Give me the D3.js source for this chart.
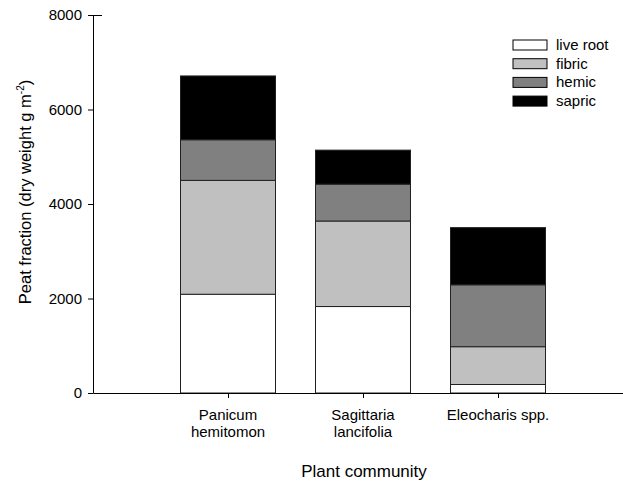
<!DOCTYPE html>
<html>
<head>
<meta charset="utf-8">
<script src="https://cdn.jsdelivr.net/npm/d3@7"></script>
<style>
  html, body { margin: 0; padding: 0; background: #fff; }
  svg { display: block; font-family: "Liberation Sans", Arial, sans-serif; }
</style>
</head>
<body>
<svg id="chart" width="623" height="484"></svg>
<script>
// Plant communities along the x axis (label lines)
const communities = ["Panicum hemitomon", "Sagittaria lancifolia", "Eleocharis spp."];
const communityLines = [["Panicum", "hemitomon"], ["Sagittaria", "lancifolia"], ["Eleocharis spp."]];

// Peat fractions, stacked bottom to top (dry weight g m^-2)
const fractions = ["live root", "fibric", "hemic", "sapric"];
const liveRoot = [2090, 1830, 180];
const fibric   = [2410, 1810, 800];
const hemic    = [860, 780, 1310];
const sapric   = [1350, 720, 1210];
const fractionColors = ["#ffffff", "#c0c0c0", "#808080", "#000000"];

const yTicks = [0, 2000, 4000, 6000, 8000];

const rows = communities.map((c, i) => ({
  community: c,
  "live root": liveRoot[i],
  fibric: fibric[i],
  hemic: hemic[i],
  sapric: sapric[i]
}));

const svg = d3.select("#chart");
const plotLeft = 93, plotBottom = 393, plotTop = 15;

const y = d3.scaleLinear().domain([0, 8000]).range([plotBottom, plotTop]);
// categories sit at positions 1..3 on a 0..4 linear axis
const x = d3.scaleLinear().domain([0, 4]).range([plotLeft, plotLeft + 4 * 135]);
const barWidth = 95;

const series = d3.stack().keys(fractions)(rows);
const color = d3.scaleOrdinal().domain(fractions).range(fractionColors);

// stacked bars
svg.append("g")
  .selectAll("g")
  .data(series)
  .join("g")
  .attr("fill", d => color(d.key))
  .selectAll("rect")
  .data(d => d)
  .join("rect")
  .attr("x", (d, i) => x(i + 1) - barWidth / 2)
  .attr("y", d => y(d[1]))
  .attr("width", barWidth)
  .attr("height", d => y(d[0]) - y(d[1]))
  .attr("stroke", "#222")
  .attr("stroke-width", 1);

// y axis
const yAxis = svg.append("g")
  .attr("transform", `translate(${plotLeft},0)`)
  .call(d3.axisLeft(y).tickValues(yTicks).tickFormat(d3.format("d"))
    .tickSize(5).tickPadding(6).tickSizeOuter(0));
yAxis.select(".domain").attr("stroke", "#000");
yAxis.selectAll("line").attr("stroke", "#000");
yAxis.selectAll("text").attr("font-size", 15).attr("fill", "#000")
  .attr("font-family", "Liberation Sans, Arial, sans-serif");
// short cap at the top end of the y axis
yAxis.append("line")
  .attr("x1", 0).attr("x2", 9)
  .attr("y1", y(8000) + 0.5).attr("y2", y(8000) + 0.5)
  .attr("stroke", "#000");

// x axis
const xAxis = svg.append("g")
  .attr("transform", `translate(0,${plotBottom})`)
  .call(d3.axisBottom(x).tickValues([1, 2, 3]).tickSize(5).tickSizeOuter(0).tickFormat(""));
xAxis.select(".domain").attr("stroke", "#000");
xAxis.selectAll("line").attr("stroke", "#000");

// category labels (two lines where needed)
svg.append("g")
  .selectAll("text")
  .data(communityLines)
  .join("text")
  .attr("x", (d, i) => x(i + 1))
  .attr("y", 420)
  .attr("text-anchor", "middle")
  .attr("font-size", 15)
  .attr("fill", "#000")
  .selectAll("tspan")
  .data(d => d)
  .join("tspan")
  .attr("x", function () { return d3.select(this.parentNode).attr("x"); })
  .attr("dy", (d, i) => i === 0 ? 0 : 17)
  .text(d => d);

// axis titles
svg.append("text")
  .attr("x", 364)
  .attr("y", 477)
  .attr("text-anchor", "middle")
  .attr("font-size", 17)
  .attr("fill", "#000")
  .text("Plant community");

const yTitle = svg.append("text")
  .attr("transform", "translate(31,192) rotate(-90)")
  .attr("text-anchor", "middle")
  .attr("font-size", 16.5)
  .attr("fill", "#000");
yTitle.append("tspan").text("Peat fraction (dry weight g m");
yTitle.append("tspan").attr("font-size", 10).attr("dy", -7).text("-2");
yTitle.append("tspan").attr("dy", 7).text(")");

// legend
const legend = svg.append("g").attr("transform", "translate(513,40)");
const item = legend.selectAll("g")
  .data(fractions)
  .join("g")
  .attr("transform", (d, i) => `translate(0,${i * 18.7})`);
item.append("rect")
  .attr("width", 34)
  .attr("height", 10)
  .attr("fill", d => color(d))
  .attr("stroke", "#000")
  .attr("stroke-width", 1);
item.append("text")
  .attr("x", 43)
  .attr("y", 10)
  .attr("font-size", 15)
  .attr("fill", "#000")
  .text(d => d);
</script>
</body>
</html>
